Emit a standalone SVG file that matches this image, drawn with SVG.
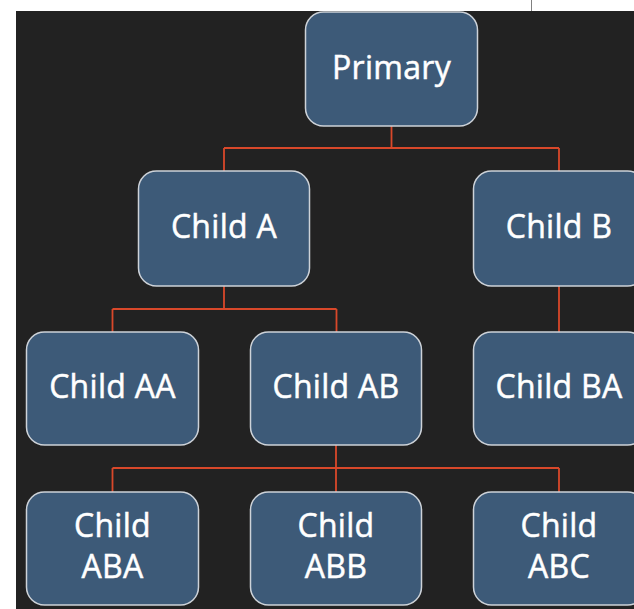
<svg xmlns="http://www.w3.org/2000/svg" width="634" height="609" viewBox="0 0 634 609">
<style>
.node rect{fill:#3d5a78;stroke:#cdd2d8;stroke-width:1.5}
.node text{fill:#ffffff;stroke:#ffffff;stroke-width:0.5;font-family:"Open Sans","Noto Sans",sans-serif;font-size:32px;text-anchor:middle;letter-spacing:0.3px}
.conn path{fill:none;stroke:#d9482a;stroke-width:1.8}
</style>
<rect x="0" y="0" width="634" height="609" fill="#ffffff"/>
<rect x="16" y="11" width="618" height="598" fill="#222222"/>
<line x1="531.5" y1="0" x2="531.5" y2="11" stroke="#808080" stroke-width="1"/>
<g class="conn" id="connectors">
<path d="M391.5,126V148M224,148H559M224,148V171M559,148V171"/>
<path d="M224,286V309M112.5,309H336.5M112.5,309V332M336.5,309V332"/>
<path d="M559,286V332"/>
<path d="M336,445V492M112.5,468H559M112.5,468V492M559,468V492"/>
</g>
<g class="node" id="primary"><rect x="305.5" y="12" width="172" height="114" rx="18"/><text x="391.5" y="79">Primary</text></g>
<g class="node" id="childA"><rect x="138.5" y="171" width="171" height="115" rx="18"/><text x="224" y="238">Child A</text></g>
<g class="node" id="childB"><rect x="473.5" y="171" width="172" height="115" rx="18"/><text x="559" y="238">Child B</text></g>
<g class="node" id="childAA"><rect x="26.5" y="332" width="172" height="113" rx="18"/><text x="112.5" y="398">Child AA</text></g>
<g class="node" id="childAB"><rect x="250.5" y="332" width="171" height="113" rx="18"/><text x="336" y="398">Child AB</text></g>
<g class="node" id="childBA"><rect x="473.5" y="332" width="172" height="113" rx="18"/><text x="559" y="398">Child BA</text></g>
<g class="node" id="childABA"><rect x="26.5" y="492" width="172" height="113" rx="18"/><text x="112.5" y="537">Child</text><text x="112.5" y="578">ABA</text></g>
<g class="node" id="childABB"><rect x="250.5" y="492" width="171" height="113" rx="18"/><text x="336" y="537">Child</text><text x="336" y="578">ABB</text></g>
<g class="node" id="childABC"><rect x="473.5" y="492" width="172" height="113" rx="18"/><text x="559" y="537">Child</text><text x="559" y="578">ABC</text></g>
</svg>
